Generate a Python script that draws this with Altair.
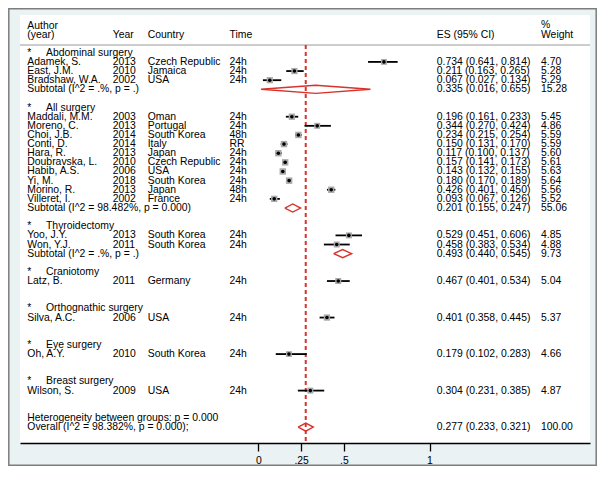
import altair as alt
import pandas as pd

# ---------------- data ----------------
groups = ["Abdominal surgery", "All surgery", "Thyroidectomy", "Craniotomy",
          "Orthognathic surgery", "Eye surgery", "Breast surgery"]
group_sizes = [3, 10, 2, 1, 1, 1, 1]

authors = ["Adamek, S.", "East, J.M.", "Bradshaw, W.A.",
           "Maddali, M.M.", "Moreno, C.", "Choi, J.B.", "Conti, D.", "Hara, R.",
           "Doubravska, L.", "Habib, A.S.", "Yi, M.", "Morino, R.", "Villeret, I.",
           "Yoo, J.Y.", "Won, Y.J.", "Latz, B.", "Silva, A.C.", "Oh, A.Y.", "Wilson, S."]
years = [2013, 2010, 2002, 2003, 2013, 2014, 2014, 2013, 2010, 2006, 2018, 2013, 2002,
         2013, 2011, 2011, 2006, 2010, 2009]
countries = ["Czech Republic", "Jamaica", "USA", "Oman", "Portugal", "South Korea", "Italy",
             "Japan", "Czech Republic", "USA", "South Korea", "Japan", "France",
             "South Korea", "South Korea", "Germany", "USA", "South Korea", "USA"]
times = ["24h", "24h", "24h", "24h", "24h", "48h", "RR", "24h", "24h", "24h", "24h", "48h",
         "24h", "24h", "24h", "24h", "24h", "24h", "24h"]
es = [0.734, 0.211, 0.067, 0.196, 0.344, 0.234, 0.150, 0.117, 0.157, 0.143, 0.180, 0.426,
      0.093, 0.529, 0.458, 0.467, 0.401, 0.179, 0.304]
lo = [0.641, 0.163, 0.027, 0.161, 0.270, 0.215, 0.131, 0.100, 0.141, 0.132, 0.170, 0.401,
      0.067, 0.451, 0.383, 0.401, 0.358, 0.102, 0.231]
hi = [0.814, 0.265, 0.134, 0.233, 0.424, 0.254, 0.170, 0.137, 0.173, 0.155, 0.189, 0.450,
      0.126, 0.606, 0.534, 0.534, 0.445, 0.283, 0.385]
weights = [4.70, 5.28, 5.29, 5.45, 4.86, 5.59, 5.59, 5.60, 5.61, 5.63, 5.64, 5.56, 5.52,
           4.85, 4.88, 5.04, 5.37, 4.66, 4.87]

# subtotals (only groups with more than one study)
sub_groups = ["Abdominal surgery", "All surgery", "Thyroidectomy"]
sub_het = ["(I^2 = .%, p = .)", "(I^2 = 98.482%, p = 0.000)", "(I^2 = .%, p = .)"]
sub_es = [0.335, 0.201, 0.493]
sub_lo = [0.016, 0.155, 0.440]
sub_hi = [0.655, 0.247, 0.545]
sub_w = [15.28, 55.06, 9.73]

overall_label = "Overall  (I^2 = 98.382%, p = 0.000);"
het_label = "Heterogeneity between groups: p = 0.000"
overall_es, overall_lo, overall_hi, overall_w = 0.277, 0.233, 0.321, 100.00

tick_values = [0, 0.25, 0.5, 1]

# ---------------- layout of rows ----------------
grp_rows, study_rows, sub_rows = [], [], {}
r = 0
k = 0
for g, n in zip(groups, group_sizes):
    grp_rows.append(r)
    r += 1
    for _ in range(n):
        study_rows.append(r)
        r += 1
    sub_rows[g] = r
    r += 2
het_row = r
overall_row = r + 1

studies = pd.DataFrame({
    "author": authors, "year": [str(y) for y in years], "country": countries,
    "time": times, "es": es, "lo": lo, "hi": hi, "w": weights, "row": study_rows,
})
studies["estext"] = [f"{a:.3f} ({b:.3f}, {c:.3f})" for a, b, c in zip(es, lo, hi)]
studies["wtext"] = [f"{w:.2f}" for w in weights]

gdf = pd.DataFrame({"name": groups, "row": grp_rows, "star": ["*"] * len(groups)})

subs = pd.DataFrame({
    "label": ["Subtotal  " + h for h in sub_het], "es": sub_es, "lo": sub_lo, "hi": sub_hi,
    "w": sub_w, "row": [sub_rows[g] for g in sub_groups],
})
subs["estext"] = [f"{a:.3f} ({b:.3f}, {c:.3f})" for a, b, c in zip(sub_es, sub_lo, sub_hi)]
subs["wtext"] = [f"{w:.2f}" for w in sub_w]

ov = pd.DataFrame({
    "label": [overall_label], "es": [overall_es], "lo": [overall_lo], "hi": [overall_hi],
    "w": [overall_w], "row": [overall_row],
})
ov["estext"] = [f"{overall_es:.3f} ({overall_lo:.3f}, {overall_hi:.3f})"]
ov["wtext"] = [f"{overall_w:.2f}"]
hetdf = pd.DataFrame({"label": [het_label], "row": [het_row]})

# diamond outlines
half = 0.44
dpts = []
for i, rr in enumerate(pd.concat([subs, ov]).itertuples()):
    pts = [(rr.lo, rr.row), (rr.es, rr.row - half), (rr.hi, rr.row),
           (rr.es, rr.row + half), (rr.lo, rr.row)]
    for j, (x, y) in enumerate(pts):
        dpts.append({"d": i, "o": j, "x": x, "y": y})
dia = pd.DataFrame(dpts)

# ---------------- chart ----------------
FONT = "Liberation Sans"
FS = 10.4
RED = "#d8322a"

xscale = alt.Scale(domain=[-1.392, 1.9375], nice=False, zero=False)
yscale = alt.Scale(domain=[-4.14, 42.74], nice=False, zero=False, reverse=True)
xaxis = alt.Axis(values=tick_values, grid=False, title=None,
                 labelExpr="datum.value == 0 ? '0' : datum.value == 1 ? '1' : replace(format(datum.value, '.2~f'), '0.', '.')",
                 domainColor="black", domainWidth=1.3, tickColor="black", tickWidth=1.3,
                 tickSize=8, labelPadding=4, labelFont=FONT, labelFontSize=FS,
                 labelColor="black")


def X(field):
    return alt.X(field, type="quantitative", scale=xscale, axis=xaxis)


def Y(field):
    return alt.Y(field, type="quantitative", scale=yscale, axis=None)


def txt(df, field, xpx, **kw):
    return alt.Chart(df).mark_text(align="left", baseline="middle", font=FONT,
                                   fontSize=FS, color="black", **kw).encode(
        x=alt.value(xpx), y=Y("row"), text=alt.Text(field, type="nominal"))


def hdr(label, xpx, ypx):
    return alt.Chart(pd.DataFrame({"t": [label]})).mark_text(
        align="left", baseline="middle", font=FONT, fontSize=FS, color="black").encode(
        x=alt.value(xpx), y=alt.value(ypx), text="t:N")


XA, XG, XY, XC, XT, XE, XW = 7.3, 26, 92.7, 127.7, 209.5, 416.8, 521

layers = []
# outer frame
layers.append(alt.Chart(pd.DataFrame({"a": [0]})).mark_rect(
    fill="transparent", stroke="#7d7d7d", strokeWidth=1.5).encode(
    x=alt.value(-11.2), x2=alt.value(576.2), y=alt.value(-6.2), y2=alt.value(450.2)))
# header rule
layers.append(alt.Chart(pd.DataFrame({"a": [0]})).mark_rule(
    color="#9a9a9a", strokeWidth=1).encode(
    x=alt.value(0), x2=alt.value(570), y=alt.value(30)))
# headers
layers += [hdr("Author", XA, 10.7), hdr("(year)", XA, 19.7), hdr("Year", XY, 19.7),
           hdr("Country", XC, 19.7), hdr("Time", XT, 19.7), hdr("ES (95% CI)", XE, 19.7),
           hdr("%", XW, 10.2), hdr("Weight", XW, 19.5)]
# dashed overall line
layers.append(alt.Chart(ov).mark_rule(color=RED, strokeWidth=2, strokeDash=[4, 3]).encode(
    x=X("es"), y=alt.value(30), y2=alt.value(428)))
# study CI lines, boxes, points
layers.append(alt.Chart(studies).mark_rule(color="black", strokeWidth=1.8).encode(
    x=X("lo"), x2="hi", y=Y("row")))
layers.append(alt.Chart(studies).mark_square(color="#a9a9a9", opacity=1).encode(
    x=X("es"), y=Y("row"),
    size=alt.Size("w:Q", scale=alt.Scale(domain=[0, 6], range=[0, 44]), legend=None)))
layers.append(alt.Chart(studies).mark_circle(color="black", opacity=1, size=13).encode(
    x=X("es"), y=Y("row")))
# diamonds
layers.append(alt.Chart(dia).mark_line(color=RED, strokeWidth=1.4).encode(
    x=X("x"), y=Y("y"), detail="d:N", order="o:Q"))
# group headers
layers.append(txt(gdf, "star", XA))
layers.append(txt(gdf, "name", XG))
# study text
layers += [txt(studies, "author", XA), txt(studies, "year", XY), txt(studies, "country", XC),
           txt(studies, "time", XT), txt(studies, "estext", XE), txt(studies, "wtext", XW)]
# subtotal text
layers += [txt(subs, "label", XA), txt(subs, "estext", XE), txt(subs, "wtext", XW)]
# heterogeneity + overall
layers += [txt(hetdf, "label", XA), txt(ov, "label", XA), txt(ov, "estext", XE),
           txt(ov, "wtext", XW)]

chart = alt.layer(*layers).properties(
    width=570, height=428,
    autosize=alt.AutoSizeParams(type="none"),
    padding={"left": 12, "top": 7, "right": 7, "bottom": 23},
    background="#eaf2f4",
).configure_view(fill="white", strokeWidth=0)

chart.save("out.html", embed_options={"renderer": "svg", "actions": False})
